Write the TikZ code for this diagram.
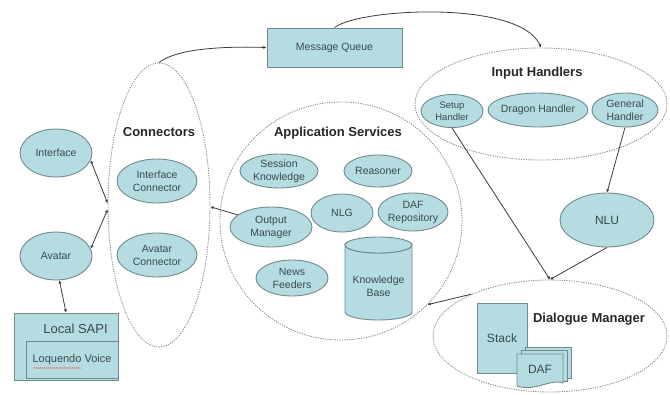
\documentclass[tikz,border=0pt]{standalone}
\usepackage{fontspec}
\setmainfont{Liberation Sans}
\usetikzlibrary{shapes.geometric,arrows.meta,decorations.pathmorphing}
\definecolor{boxfill}{HTML}{B4DCE1}
\definecolor{boxline}{HTML}{6E8B90}
\definecolor{boxtext}{HTML}{3A4A4E}
\definecolor{groupline}{HTML}{8C8C8C}
\definecolor{wire}{HTML}{3C3C3C}

\begin{document}
\begin{tikzpicture}[x=1pt,y=-1pt,
  blob/.style={ellipse, draw=boxline, fill=boxfill, line width=0.9pt, inner sep=0pt},
  sz/.style 2 args={minimum width=#1pt, minimum height=#2pt},
  grp/.style={ellipse, draw=groupline, line width=0.9pt, dash pattern=on 1.2pt off 1.2pt, inner sep=0pt},
  box/.style={rectangle, draw=boxline, fill=boxfill, line width=0.9pt, inner sep=0pt},
  small/.style={font=\fontsize{10.5}{13}\selectfont, text=boxtext, align=center},
  tiny/.style={font=\fontsize{9.5}{11.5}\selectfont, text=boxtext, align=center},
  grplabel/.style={font=\fontsize{13}{15}\selectfont\bfseries, text=black!85},
  wireline/.style={draw=wire, line width=0.8pt},
  tip/.style={-{Latex[length=3.2pt,width=3.2pt]}},
  tips/.style={{Latex[length=3.2pt,width=3.2pt]}-{Latex[length=3.2pt,width=3.2pt]}},
]
\useasboundingbox (0,0) rectangle (670,394);

% dotted group outlines
\node[grp, sz={102}{284}] (conn) at (159,205) {};
\node[grp, sz={242}{238}] (as) at (341,221) {};
\node[grp, sz={252}{112}] (ih) at (541,104) {};
\node[grp, sz={234}{112}] (dm) at (550,336) {};

% group titles
\node[grplabel] (connlbl) at (159,132) {Connectors};
\node[grplabel] (aslbl) at (338,133) {Application Services};
\node[grplabel] (ihlbl) at (537,73) {Input Handlers};
\node[grplabel] (dmlbl) at (589,319) {Dialogue Manager};

% client side
\node[blob, sz={72}{48}, label={[small]center:Interface}] (interface) at (56,153) {};
\node[blob, sz={72}{48}, label={[small]center:Avatar}] (avatar) at (56,256) {};

% connectors
\node[blob, sz={80}{44}, label={[small]center:Interface\\Connector}] (ifconn) at (157,181) {};
\node[blob, sz={80}{44}, label={[small]center:Avatar\\Connector}] (avconn) at (157,255) {};

% application services
\node[blob, sz={78}{34}, label={[small]center:Session\\Knowledge}] (sess) at (279,171) {};
\node[blob, sz={68}{32}, label={[small]center:Reasoner}] (reas) at (378,171) {};
\node[blob, sz={62}{38}, label={[small]center:NLG}] (nlg) at (342,213) {};
\node[blob, sz={70}{38}, label={[small]center:DAF\\Repository}] (dafrep) at (413,212) {};
\node[blob, sz={82}{40}, label={[small]center:Output\\Manager}] (outmgr) at (271,227) {};
\node[blob, sz={72}{36}, label={[small]center:News\\Feeders}] (news) at (292,278) {};

% knowledge base cylinder
\path[draw=boxline, fill=boxfill, line width=0.9pt]
  (345,245) -- (345,312) arc[start angle=180, end angle=0, x radius=33.5, y radius=8]
  -- (412,245) arc[start angle=0, end angle=180, x radius=33.5, y radius=8] -- cycle;
\path[draw=boxline, fill=boxfill, line width=0.9pt]
  (378.5,245) ellipse[x radius=33.5, y radius=8];
\node[small] (kb) at (378.5,286) {Knowledge\\Base};

% message queue
\node[box, sz={135}{39}, small] (mq) at (334.5,47.5) {Message Queue};

% input handlers
\node[blob, sz={62}{33}, label={[tiny]center:Setup\\Handler}] (setup) at (452,111) {};
\node[blob, sz={100}{34}, label={[small]center:Dragon Handler}] (dragon) at (538,110) {};
\node[blob, sz={66}{34}, label={[small]center:General\\Handler}] (general) at (625,110) {};
\node[blob, sz={94}{54}, label={[small,font=\fontsize{12}{14}\selectfont]center:NLU}] (nlu) at (607,220) {};

% dialogue manager contents
\node[box, sz={50}{70}, small, font=\fontsize{12}{14}\selectfont] (stack) at (502,338) {Stack};
\path[draw=boxline, fill=boxfill, line width=0.9pt] (525,347) rectangle (571,378);
\path[draw=boxline, fill=boxfill, line width=0.9pt] (521,350.5) rectangle (567,381);
\path[draw=boxline, fill=boxfill, line width=0.9pt]
  (517,354) -- (563,354) -- (563,383) .. controls (551,378) and (536,392) .. (517,386) -- cycle;
\node[small, font=\fontsize{12}{14}\selectfont] (daf) at (540,369) {DAF};

% local speech engine
\node[box, sz={104}{67}] (sapi) at (66,346.5) {};
\node[font=\fontsize{13}{15}\selectfont, text=boxtext] (sapilbl) at (75.5,329) {Local SAPI};
\node[box, sz={92}{37}, label={[small,font=\fontsize{11}{13}\selectfont]center:Loquendo Voice}] (voice) at (72,359.5) {};
\draw[red!65!white, line width=0.5pt, decorate,
      decoration={snake, amplitude=0.5pt, segment length=2pt}] (34,368) -- (81,368);

% connections
\draw[wireline, tips] (interface.-12) -- (conn.178);
\draw[wireline, tips] (avatar.12) -- (conn.185);
\draw[wireline, tips] (avatar.-82) -- (sapi.north);
\draw[wireline, tip] (outmgr.160) -- (conn.-2);
\draw[wireline, tip] (conn.north) .. controls (175,50) and (215,46) .. (mq.west);
\draw[wireline, tip] (mq.north) .. controls (360,8) and (520,0) .. (ih.north);
\draw[wireline, tip] (general.south) -- (nlu.north);
\draw[wireline, tip] (setup.south) -- (dm.north);
\draw[wireline, tip] (nlu.south) -- (dm.north);
\draw[wireline, tip] (dm.152) -- (as.-44);
\end{tikzpicture}
\end{document}
